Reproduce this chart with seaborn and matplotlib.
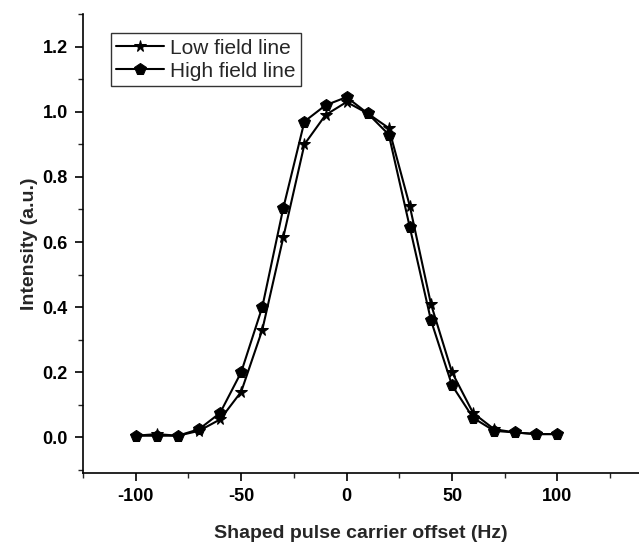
import numpy as np
import pandas as pd
import matplotlib
matplotlib.use("Agg")
import matplotlib.pyplot as plt
import seaborn as sns
from matplotlib.ticker import MultipleLocator

# Datos
offset_hz = [-100, -90, -80, -70, -60, -50, -40, -30, -20, -10, 0,
             10, 20, 30, 40, 50, 60, 70, 80, 90, 100]
low_field = [0.005, 0.01, 0.005, 0.02, 0.055, 0.14, 0.33, 0.615, 0.90, 0.99, 1.03,
             0.995, 0.95, 0.71, 0.41, 0.20, 0.075, 0.025, 0.015, 0.01, 0.01]
high_field = [0.005, 0.005, 0.005, 0.025, 0.075, 0.20, 0.40, 0.705, 0.97, 1.02, 1.045,
              0.995, 0.93, 0.645, 0.36, 0.16, 0.06, 0.02, 0.015, 0.01, 0.01]
series_names = ["Low field line", "High field line"]

df = pd.DataFrame({
    "offset": offset_hz * 2,
    "intensity": low_field + high_field,
    "serie": [series_names[0]] * len(offset_hz) + [series_names[1]] * len(offset_hz),
})

sns.set_style("ticks")
plt.rcParams["font.family"] = ["Liberation Sans", "DejaVu Sans"]
plt.rcParams["font.weight"] = "bold"

fig = plt.figure(figsize=(6.39, 5.42), dpi=100)
ax = fig.add_axes([0.13, 0.127, 0.87, 0.847])

sns.lineplot(
    data=df, x="offset", y="intensity", hue="serie", style="serie",
    markers={series_names[0]: "*", series_names[1]: "p"},
    dashes=False, palette=["black", "black"], linewidth=1.5,
    markersize=8.5, markeredgecolor="black", ax=ax,
)

ax.set_xlim(-125, 138.7)
ax.set_ylim(-0.11, 1.3)
ax.xaxis.set_minor_locator(MultipleLocator(25))
ax.yaxis.set_minor_locator(MultipleLocator(0.1))
ax.set_yticks(np.arange(0, 1.21, 0.2))
ax.set_yticklabels([f"{v:.1f}" for v in np.arange(0, 1.21, 0.2)])
ax.set_xticks([-100, -50, 0, 50, 100])
ax.set_xticklabels(["-100", "-50", "0", "50", "100"])

for s in ["top", "right"]:
    ax.spines[s].set_visible(False)
for s in ["left", "bottom"]:
    ax.spines[s].set_linewidth(1.2)
    ax.spines[s].set_color("black")

ax.tick_params(which="major", direction="out", length=6, width=1.2, labelsize=13,
               colors="black", pad=5)
ax.tick_params(which="minor", direction="out", length=3.5, width=1.0)
ax.tick_params(axis="x", which="major", pad=5)
for lab in ax.get_xticklabels() + ax.get_yticklabels():
    lab.set_fontweight("bold")

ax.set_xlabel("Shaped pulse carrier offset (Hz)", fontsize=14, fontweight="bold", labelpad=14)
ax.set_ylabel("Intensity (a.u.)", fontsize=14, fontweight="bold", labelpad=3)

leg = ax.legend(loc="upper left", bbox_to_anchor=(0.05, 0.958), frameon=True,
                fancybox=False, edgecolor="black", fontsize=15,
                handlelength=2.3, handletextpad=0.3, borderpad=0.25, labelspacing=0.2,
                borderaxespad=0)
leg.get_frame().set_linewidth(1.0)
for t in leg.get_texts():
    t.set_fontweight("normal")

fig.savefig("out.png", dpi=100)
